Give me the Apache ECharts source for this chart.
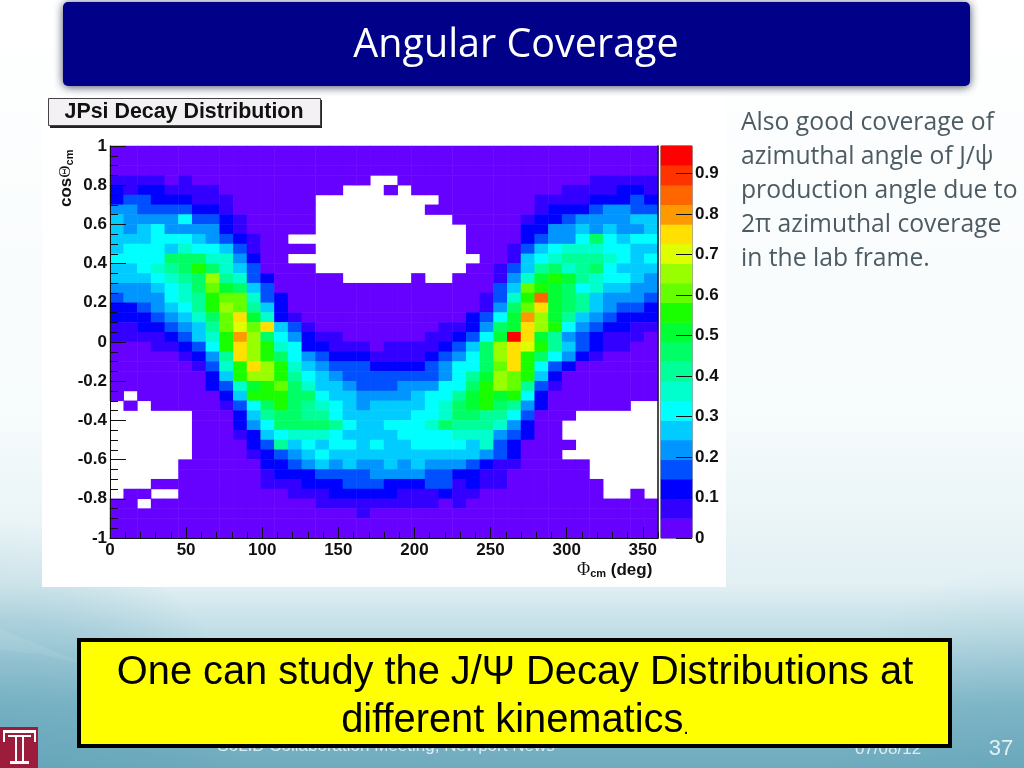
<!DOCTYPE html>
<html><head><meta charset="utf-8">
<style>html,body{margin:0;padding:0;background:#fff}#c{width:1024px;height:768px}</style>
<script src="https://cdn.jsdelivr.net/npm/echarts@6/dist/echarts.min.js"></script>
</head><body><div id="c"></div>
<script>
const n = null;
// Colour level (0-19) of each histogram bin. Top row first; n = empty bin.
const binLevels = [
[0,0,0,0,0,0,0,0,0,0,0,0,0,0,0,0,0,0,0,0,0,0,0,0,0,0,0,0,0,0,0,0,0,0,0,0,0,0,0,0],
[0,0,0,0,0,0,0,0,0,0,0,0,0,0,0,0,0,0,0,0,0,0,0,0,0,0,0,0,0,0,0,0,0,0,0,0,0,0,0,0],
[0,0,0,0,0,0,0,0,0,0,0,0,0,0,0,0,0,0,0,0,0,0,0,0,0,0,0,0,0,0,0,0,0,0,0,0,0,0,0,0],
[1,1,1,1,0,1,0,0,0,0,0,0,0,0,0,0,0,0,0,n,n,0,0,0,0,0,0,0,0,0,0,0,0,0,0,1,1,1,1,1],
[2,1,2,2,1,1,1,1,0,0,0,0,0,0,0,0,0,n,n,n,0,n,0,0,0,0,0,0,0,0,0,0,0,1,1,1,1,2,2,1],
[2,3,3,2,2,2,1,1,1,0,0,0,0,0,0,n,n,n,n,n,n,n,n,n,0,0,0,0,0,0,0,1,1,1,1,2,2,2,3,2],
[4,4,3,3,3,3,2,2,1,0,0,0,0,0,0,n,n,n,n,n,n,n,n,0,0,0,0,0,0,0,0,1,2,2,2,3,4,4,3,3],
[5,4,4,4,4,6,3,3,2,1,0,0,0,0,0,n,n,n,n,n,n,n,n,n,n,0,0,0,0,0,1,2,2,3,4,4,4,4,5,5],
[5,4,5,6,4,4,4,4,2,1,0,0,0,0,0,n,n,n,n,n,n,n,n,n,n,n,0,0,0,0,2,2,4,4,5,4,5,4,4,5],
[5,5,5,6,6,6,5,4,3,2,1,0,0,n,n,n,n,n,n,n,n,n,n,n,n,n,0,0,0,0,2,3,4,4,6,9,6,5,6,6],
[5,6,6,6,5,7,6,6,5,3,1,0,0,0,0,n,n,n,n,n,n,n,n,n,n,n,0,0,0,1,3,5,6,7,7,7,6,6,5,5],
[6,6,6,6,9,9,9,7,7,4,2,0,0,n,n,n,n,n,n,n,n,n,n,n,n,n,n,0,0,1,5,6,7,8,8,8,7,6,5,6],
[5,5,6,7,8,9,11,9,7,5,3,0,0,0,0,n,n,n,n,n,n,n,n,n,n,n,0,0,1,3,5,8,9,7,8,9,6,5,5,5],
[5,5,5,6,7,8,9,13,8,7,3,2,0,0,0,0,0,n,n,n,n,n,0,n,n,0,0,0,1,4,7,10,11,10,8,7,6,6,5,4],
[4,4,4,5,6,7,9,12,10,9,5,3,0,0,0,0,0,0,0,0,0,0,0,0,0,0,0,0,3,5,12,11,10,9,6,7,5,5,4,4],
[3,4,4,4,6,7,8,11,12,12,7,3,2,0,0,0,0,0,0,0,0,0,0,0,0,0,0,1,3,7,11,17,10,9,8,5,4,4,4,3],
[2,2,3,4,5,6,8,11,13,12,8,5,2,0,0,0,0,0,0,0,0,0,0,0,0,0,0,1,4,9,12,15,10,9,8,5,4,3,3,2],
[2,2,2,3,4,5,7,9,12,15,10,7,2,1,0,0,0,0,0,0,0,0,0,0,0,0,2,3,6,10,16,13,10,8,5,4,3,2,2,2],
[1,1,2,2,3,4,5,8,12,14,12,15,5,3,1,0,0,0,0,0,0,0,0,0,1,1,2,4,9,10,15,13,11,6,4,3,2,2,1,1],
[1,1,1,1,2,3,5,7,11,16,13,9,6,4,2,1,1,0,0,0,0,0,0,1,1,2,3,6,10,19,15,10,8,4,3,2,1,1,1,0],
[0,0,0,1,1,2,3,6,11,15,13,11,7,6,2,2,1,1,1,0,1,1,1,1,2,3,5,9,13,15,14,11,8,5,3,2,1,1,0,0],
[0,0,0,0,0,1,2,4,8,15,13,11,9,6,4,3,2,2,2,1,1,1,1,2,3,4,6,9,13,15,11,9,6,4,2,1,0,0,0,0],
[0,0,0,0,0,0,1,3,7,11,15,13,11,7,5,4,3,3,3,2,2,2,2,3,4,6,6,9,12,15,11,6,3,2,0,0,0,0,0,0],
[0,0,0,0,0,0,0,2,5,11,13,13,11,8,6,5,4,3,3,3,3,3,3,3,4,6,8,10,13,12,11,5,2,0,0,0,0,0,0,0],
[0,0,0,0,0,0,0,2,3,7,10,11,12,9,7,5,5,4,3,3,3,4,4,4,6,6,9,11,13,12,8,3,1,0,0,0,0,0,0,0],
[0,n,0,0,0,0,0,0,2,5,11,11,11,9,9,6,5,5,4,4,4,4,5,6,6,8,10,11,10,11,6,2,0,0,0,0,0,0,0,0],
[n,0,n,0,0,0,0,0,1,3,6,9,11,9,8,7,6,5,4,5,5,5,5,6,7,9,10,11,9,8,4,2,0,0,0,0,0,0,n,n],
[n,n,n,n,n,n,0,0,0,2,5,8,9,9,8,8,6,5,5,5,5,5,6,6,7,9,9,8,8,6,3,0,0,0,n,n,n,n,n,n],
[n,n,n,n,n,n,0,0,0,2,4,6,9,9,9,9,8,6,5,5,6,6,6,7,9,8,8,8,7,4,2,0,0,n,n,n,n,n,n,n],
[n,n,n,n,n,n,0,0,0,1,2,5,6,7,7,7,6,5,5,5,5,6,6,6,6,7,7,7,4,3,2,0,0,n,n,n,n,n,n,n],
[n,n,n,n,n,n,0,0,0,0,2,3,8,5,6,5,6,6,5,6,5,5,6,6,6,6,5,7,3,2,0,0,0,0,n,n,n,n,n,n],
[n,n,n,n,n,n,0,0,0,0,1,2,3,4,5,6,5,5,5,5,5,5,5,5,5,5,5,4,3,2,0,0,0,n,n,n,n,n,n,n],
[n,n,n,n,n,0,0,0,0,0,0,2,2,3,4,5,4,5,4,4,5,4,5,4,4,4,3,2,1,1,0,0,0,0,0,n,n,n,n,n],
[n,n,n,n,n,0,0,0,0,0,0,1,2,2,2,3,3,3,3,4,4,4,4,3,3,2,2,1,1,0,0,0,0,0,0,n,n,n,n,n],
[n,n,n,0,0,0,0,0,0,0,0,1,1,1,2,2,2,3,3,3,2,2,2,3,3,1,2,1,1,0,0,0,0,0,0,0,n,n,n,n],
[n,0,0,n,n,0,0,0,0,0,0,0,0,1,1,1,2,2,2,2,2,1,1,1,2,1,1,0,0,0,0,0,0,0,0,0,n,n,0,n],
[0,0,n,0,0,0,0,0,0,0,0,0,0,0,0,1,1,1,1,1,1,1,1,1,0,1,0,0,0,0,0,0,0,0,0,0,0,0,0,0],
[0,0,0,0,0,0,0,0,0,0,0,0,0,0,0,0,0,0,1,0,0,0,0,0,0,0,0,0,0,0,0,0,0,0,0,0,0,0,0,0],
[0,0,0,0,0,0,0,0,0,0,0,0,0,0,0,0,0,0,0,0,0,0,0,0,0,0,0,0,0,0,0,0,0,0,0,0,0,0,0,0],
[0,0,0,0,0,0,0,0,0,0,0,0,0,0,0,0,0,0,0,0,0,0,0,0,0,0,0,0,0,0,0,0,0,0,0,0,0,0,0,0]
];
const paletteLevels = [0,1,2,3,4,5,6,7,8,9,10,11,12,13,14,15,16,17,18,19];
const paletteColors = ['#6600ff','#3300ff','#0000ff','#0050ff','#0095ff','#00ccff','#00ffff','#00ffcc','#00ff99','#00ff66','#00ff33','#1aff00','#66ff00','#99ff00','#ddff00','#ffe000','#ff9900','#ff6600','#ff3300','#ff0000'];
const colorBarTicks = [0,0.1,0.2,0.3,0.4,0.5,0.6,0.7,0.8,0.9];
const colorBarMax = 0.968;
const phiMajorTicks = [0,50,100,150,200,250,300,350];
const phiMinorTicks = [10,20,30,40,60,70,80,90,110,120,130,140,160,170,180,190,210,220,230,240,260,270,280,290,310,320,330,340,360];
const phiBins = binLevels[0].map((_, i) => i);
const cosBins = binLevels.map((_, i) => i);

const cells = [];
binLevels.forEach((row, r) => row.forEach((lv, c) => { if (lv !== null) cells.push([c, r, lv]); }));
const barCells = paletteLevels.map((lv, i) => [0, i, lv]);

const sans = 'Liberation Sans';
const body = 'Open Sans';
const bodyLines = ['Also good coverage of','azimuthal angle of J/ψ','production angle due to','2π azimuthal coverage','in the lab frame.'];
const tickStyle = {color:'#111', width:1};
const labelStyle = {fontFamily:sans, fontWeight:'bold', fontSize:17, color:'#111'};

const chart = echarts.init(document.getElementById('c'));
chart.setOption({
  animation:false,
  backgroundColor:new echarts.graphic.LinearGradient(0,0,0,1,[
    {offset:0,color:'#ffffff'},{offset:0.55,color:'#f6fbfc'},{offset:0.76,color:'#e2f0f4'},
    {offset:0.83,color:'#bcdbe4'},{offset:0.92,color:'#84b9c9'},{offset:1,color:'#6faabd'}]),
  grid:[
    {left:110,top:146,width:548,height:392},
    {left:661,top:146,width:31,height:392,show:true,borderColor:'#444',borderWidth:1}
  ],
  xAxis:[
    {type:'category',gridIndex:0,data:phiBins,show:false},
    {type:'value',gridIndex:0,min:0,max:360,position:'bottom',z:10,
      axisLine:{show:true,onZero:false,lineStyle:{color:'#111',width:1}},splitLine:{show:false},
      axisTick:{show:true,inside:true,length:11,lineStyle:tickStyle,customValues:phiMajorTicks},
      axisLabel:Object.assign({margin:4,customValues:phiMajorTicks,hideOverlap:false},labelStyle)},
    {type:'value',gridIndex:0,min:0,max:360,position:'bottom',z:10,
      axisLine:{show:false,onZero:false},splitLine:{show:false},axisLabel:{show:false},
      axisTick:{show:true,inside:true,length:6,lineStyle:tickStyle,customValues:phiMinorTicks}},
    {type:'category',gridIndex:1,data:[0],show:false}
  ],
  yAxis:[
    {type:'category',gridIndex:0,data:cosBins,inverse:true,show:false},
    {type:'value',gridIndex:0,min:-1,max:1,interval:0.2,position:'left',z:10,
      axisLine:{show:true,onZero:false,lineStyle:{color:'#111',width:1}},splitLine:{show:false},
      axisTick:{show:true,inside:true,length:16,lineStyle:tickStyle},
      minorTick:{show:true,splitNumber:4,length:8,lineStyle:tickStyle},
      axisLabel:Object.assign({margin:3,hideOverlap:false,padding:[4,0,0,0]},labelStyle)},
    {type:'category',gridIndex:1,data:paletteLevels,show:false},
    {type:'value',gridIndex:1,min:0,max:colorBarMax,position:'right',z:10,
      axisLine:{show:false,onZero:false},splitLine:{show:false},
      axisTick:{show:true,inside:true,length:16,lineStyle:tickStyle,customValues:colorBarTicks},
      axisLabel:Object.assign({margin:3,customValues:colorBarTicks,hideOverlap:false,padding:[3,0,0,0],
        formatter:v=>v===0?'0':v.toFixed(1)},labelStyle)},
    {type:'value',gridIndex:0,min:-1,max:1,position:'right',z:10,
      axisLine:{show:true,onZero:false,lineStyle:{color:'#111',width:1.5}},splitLine:{show:false},
      axisTick:{show:false},axisLabel:{show:false}}
  ],
  visualMap:{type:'piecewise',show:false,dimension:2,seriesIndex:[0,1],
    pieces:paletteLevels.map((v,i)=>({value:v,color:paletteColors[i]}))},
  series:[
    {type:'heatmap',xAxisIndex:0,yAxisIndex:0,data:cells,silent:true,z:2,itemStyle:{borderWidth:0}},
    {type:'heatmap',xAxisIndex:3,yAxisIndex:2,data:barCells,silent:true,z:2,itemStyle:{borderWidth:0}}
  ],
  graphic:[
    // soft darkening of the slide background at the lower corners, and the faint swoosh
    {type:'rect',z:-8,shape:{x:0,y:520,width:250,height:248},style:{fill:new echarts.graphic.RadialGradient(0,1,1,[
      {offset:0,color:'rgba(90,160,182,0.45)'},{offset:0.6,color:'rgba(90,160,182,0.25)'},{offset:1,color:'rgba(90,160,182,0)'}])}},
    {type:'rect',z:-8,shape:{x:820,y:560,width:204,height:208},style:{fill:new echarts.graphic.RadialGradient(1,1,1,[
      {offset:0,color:'rgba(90,160,182,0.25)'},{offset:1,color:'rgba(90,160,182,0)'}])}},
    {type:'polygon',z:-7,shape:{points:[[0,629],[40,645],[80,663],[40,654],[0,650]]},style:{fill:'rgba(255,255,255,0.08)'}},
    {type:'rect',z:-5,shape:{x:42,y:95,width:684,height:492},style:{fill:'#ffffff'}},
    // header
    {type:'rect',z:1,shape:{x:63,y:2,width:907,height:84,r:5},
      style:{fill:'#000088',shadowBlur:10,shadowColor:'rgba(20,30,60,0.8)',shadowOffsetY:1}},
    {type:'text',z:5,x:516,y:46,style:{text:'Angular Coverage',fontFamily:body,fontSize:39.5,fill:'#ffffff',align:'center',verticalAlign:'middle'}},
    // histogram title box
    {type:'rect',z:1,shape:{x:50,y:100,width:272,height:28},style:{fill:'#222'}},
    {type:'rect',z:2,shape:{x:48.5,y:98.5,width:272,height:27},style:{fill:'#f3f1f3',stroke:'#444',lineWidth:1}},
    {type:'text',z:5,x:184,y:112,style:{text:'JPsi Decay Distribution',fontFamily:sans,fontWeight:'bold',fontSize:21.4,fill:'#111',align:'center',verticalAlign:'middle'}},
    // axis titles
    {type:'text',z:5,x:577,y:570,style:{text:'{p|Φ}{s|cm}{d| (deg)}',verticalAlign:'middle',rich:{
      p:{fontFamily:'Liberation Serif',fontSize:18,fill:'#111'},
      s:{fontFamily:sans,fontWeight:'bold',fontSize:11,fill:'#111',padding:[7,0,0,0]},
      d:{fontFamily:sans,fontWeight:'bold',fontSize:17,fill:'#111'}}}},
    {type:'text',z:5,x:66,y:207,rotation:Math.PI/2,style:{text:'{d|cos}{p|Θ}{s|cm}',verticalAlign:'middle',rich:{
      p:{fontFamily:'Liberation Serif',fontSize:17,fill:'#111'},
      s:{fontFamily:sans,fontWeight:'bold',fontSize:11,fill:'#111',padding:[7,0,0,0]},
      d:{fontFamily:sans,fontWeight:'bold',fontSize:17,fill:'#111'}}}},
    // right-hand text
    ...bodyLines.map((t,i)=>({type:'text',z:5,x:741,y:123+34*i,style:{text:t,fontFamily:body,fontSize:24.7,fill:'#4d5b63',verticalAlign:'middle'}})),
    // footer
    {type:'text',z:1,x:386,y:746,style:{text:'SoLID Collaboration Meeting, Newport News',fontFamily:sans,fontSize:17,fill:'#dcecf1',align:'center',verticalAlign:'middle'}},
    {type:'text',z:1,x:888,y:749,style:{text:'07/08/12',fontFamily:sans,fontSize:17,fill:'#dcecf1',align:'center',verticalAlign:'middle'}},
    {type:'text',z:1,x:1001,y:749,style:{text:'37',fontFamily:sans,fontSize:22,fill:'#e4f1f4',align:'center',verticalAlign:'middle'}},
    // yellow note
    {type:'rect',z:3,shape:{x:79,y:640,width:871,height:106},style:{fill:'#ffff00',stroke:'#000',lineWidth:4}},
    {type:'text',z:5,x:515,y:673,style:{text:'One can study the J/Ψ Decay Distributions at',fontFamily:sans,fontSize:39.8,fill:'#000',align:'center',verticalAlign:'middle'}},
    {type:'text',z:5,x:515,y:721,style:{text:'different kinematics{s|.}',fontFamily:sans,fontSize:39.8,fill:'#000',align:'center',verticalAlign:'middle',
      rich:{s:{fontFamily:sans,fontSize:20,fill:'#000',padding:[14,0,0,0]}}}},
    // Temple T logo
    {type:'rect',z:1,shape:{x:0,y:727,width:38,height:41},style:{fill:'#9d1c3c'}},
    {type:'rect',z:2,shape:{x:3,y:730,width:33,height:3},style:{fill:'#fff'}},
    {type:'rect',z:2,shape:{x:3,y:730,width:2,height:12},style:{fill:'#fff'}},
    {type:'rect',z:2,shape:{x:34,y:730,width:2,height:12},style:{fill:'#fff'}},
    {type:'rect',z:2,shape:{x:8,y:735,width:23,height:2},style:{fill:'#fff'}},
    {type:'rect',z:2,shape:{x:15,y:737,width:2,height:24},style:{fill:'#fff'}},
    {type:'rect',z:2,shape:{x:22,y:737,width:2,height:24},style:{fill:'#fff'}},
    {type:'rect',z:2,shape:{x:10,y:761,width:19,height:3},style:{fill:'#fff'}}
  ]
});
</script></body></html>
